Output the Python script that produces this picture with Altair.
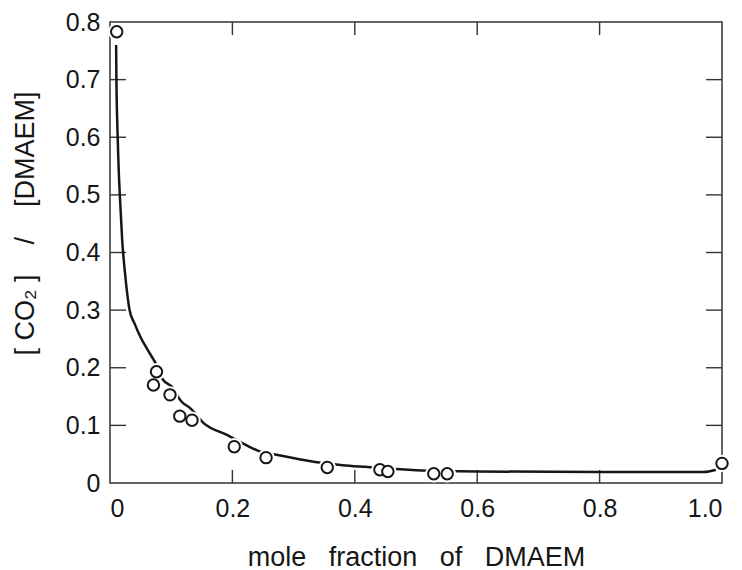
import altair as alt
import pandas as pd

# measured points
pt_x = [0.011, 0.076, 0.071, 0.098, 0.114, 0.134, 0.203, 0.255, 0.355, 0.441, 0.454, 0.529, 0.551, 1.000]
pt_y = [0.783, 0.193, 0.170, 0.153, 0.116, 0.109, 0.063, 0.044, 0.027, 0.023, 0.020, 0.016, 0.016, 0.034]

# fitted curve
cur_x = [0.010, 0.0105, 0.012, 0.014, 0.017, 0.020, 0.024, 0.028, 0.032, 0.040, 0.050, 0.062, 0.076,
         0.086, 0.100, 0.117, 0.131, 0.153, 0.192, 0.222, 0.247, 0.272, 0.345, 0.380, 0.417, 0.500,
         0.600, 0.800, 0.970, 0.990]
cur_y = [0.760, 0.700, 0.620, 0.550, 0.480, 0.420, 0.370, 0.330, 0.300, 0.277, 0.253, 0.230, 0.205,
         0.180, 0.168, 0.141, 0.130, 0.104, 0.083, 0.066, 0.054, 0.049, 0.035, 0.031, 0.028, 0.022,
         0.020, 0.019, 0.019, 0.023]

x_ticks = [0, 0.2, 0.4, 0.6, 0.8, 1.0]
y_ticks = [0, 0.1, 0.2, 0.3, 0.4, 0.5, 0.6, 0.7, 0.8]
x_inner = [0.2, 0.4, 0.6, 0.8]
y_inner = [0.1, 0.2, 0.3, 0.4, 0.5, 0.6, 0.7]

NB = "\u00a0"
x_title = "mole" + NB * 3 + "fraction" + NB * 3 + "of" + NB * 3 + "DMAEM"
y_title = "[" + NB + "CO\u2082" + NB + "]" + NB * 4 + "/" + NB * 4 + "[DMAEM]"

FONT = "Liberation Sans"
INK = "#161616"
W, H = 612, 461

pts = pd.DataFrame({"x": pt_x, "y": pt_y})
cur = pd.DataFrame({"x": cur_x, "y": cur_y})
xt = pd.DataFrame({"v": x_inner})
yt = pd.DataFrame({"v": y_inner})

xs = alt.Scale(domain=[0, 1], nice=False, zero=False)
ys = alt.Scale(domain=[0, 0.8], nice=False, zero=False)
lab = "datum.value == 0 ? '0' : format(datum.value, '.1f')"

line = alt.Chart(cur).mark_line(color=INK, strokeWidth=2.5, interpolate="monotone").encode(
    x=alt.X("x:Q", scale=xs, axis=alt.Axis(
        values=x_ticks, labelExpr=lab, title=x_title, labelFontSize=25, labelPadding=13,
        labelFont=FONT, titleFont=FONT, titleFontSize=27, titleFontWeight="normal",
        titleX=306, titleY=82, titleAlign="center", titleBaseline="alphabetic",
        labelColor=INK, titleColor=INK)),
    y=alt.Y("y:Q", scale=ys, axis=alt.Axis(
        values=y_ticks, labelExpr=lab, title=y_title, labelFontSize=25, labelPadding=10,
        labelFont=FONT, titleFont=FONT, titleFontSize=27, titleFontWeight="normal",
        titleX=-85, titleY=201, titleAngle=270, titleAlign="center", titleBaseline="middle",
        labelColor=INK, titleColor=INK)),
)

halo = alt.Chart(pts).mark_point(shape="circle", filled=True, fill="white", opacity=1,
                                 fillOpacity=1, strokeWidth=0, size=300).encode(
    x=alt.X("x:Q", scale=xs), y=alt.Y("y:Q", scale=ys))

circ = alt.Chart(pts).mark_point(shape="circle", filled=True, fill="white", stroke=INK,
                                 strokeWidth=2, opacity=1, fillOpacity=1, size=130).encode(
    x=alt.X("x:Q", scale=xs), y=alt.Y("y:Q", scale=ys))

tick_style = dict(color="#333", strokeWidth=1.4)
bot = alt.Chart(xt).mark_rule(**tick_style).encode(
    x=alt.X("v:Q", scale=xs), y=alt.value(H), y2=alt.value(H - 13))
top = alt.Chart(xt).mark_rule(**tick_style).encode(
    x=alt.X("v:Q", scale=xs), y=alt.value(0), y2=alt.value(13))
left = alt.Chart(yt).mark_rule(**tick_style).encode(
    y=alt.Y("v:Q", scale=ys), x=alt.value(0), x2=alt.value(16))
right = alt.Chart(yt).mark_rule(**tick_style).encode(
    y=alt.Y("v:Q", scale=ys), x=alt.value(W), x2=alt.value(W - 16))

chart = alt.layer(bot, top, left, right, line, halo, circ).properties(
    width=W, height=H,
    autosize=alt.AutoSizeParams(type="none"),
    padding={"left": 102, "top": 14, "right": 10, "bottom": 92},
).configure_view(stroke="#333", strokeWidth=1.5).configure_axis(
    domain=False, ticks=False, grid=False
)

chart.save("out.html", embed_options={"renderer": "svg", "actions": False})
